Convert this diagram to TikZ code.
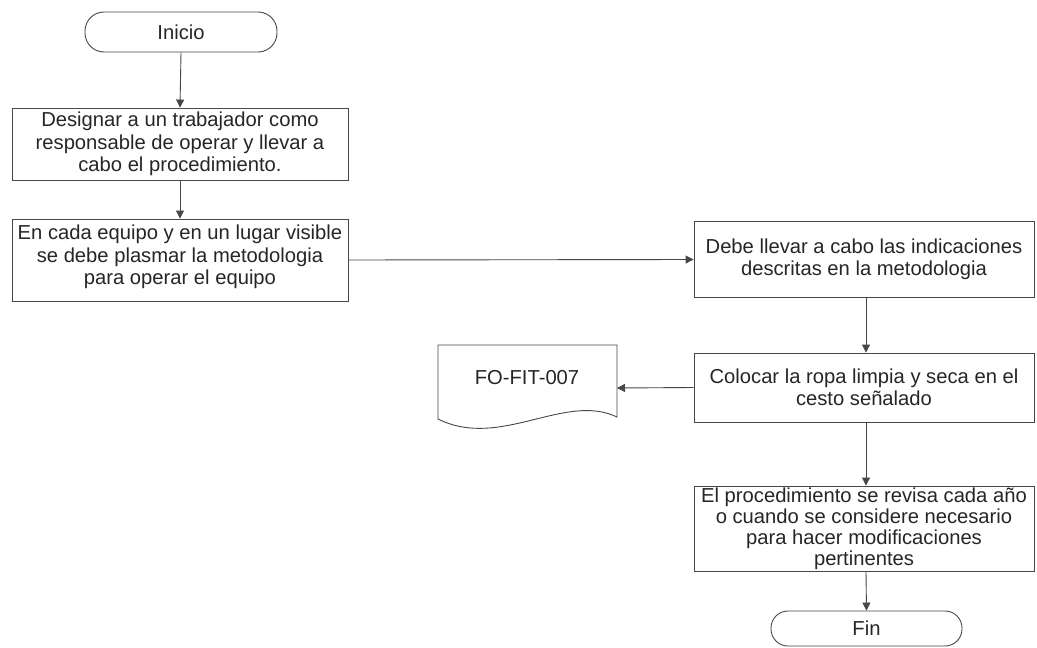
\documentclass[tikz,border=0pt]{standalone}
\usepackage{fontspec}
\setmainfont{Liberation Sans}
\usetikzlibrary{arrows.meta}
\begin{document}
\begin{tikzpicture}[x=1pt,y=-1pt,
  line/.style={draw=black!72,line width=0.9pt},
  conn/.style={line,-{Triangle[width=8pt,length=8pt]}},
  txt/.style={font=\fontsize{20.2}{22.5}\selectfont,align=center,text=black!85},
  stepbox/.style={line,rectangle,inner sep=0pt},
  term/.style={line,rectangle,rounded corners=19pt,inner sep=0pt}
]
\useasboundingbox[fill=white] (0,0) rectangle (1037,648);
% shapes
\node[term,minimum width=192pt,minimum height=40pt] (ini) at (181,32) {};
\node[txt] at (ini.center) {Inicio};
\node[stepbox,minimum width=336pt,minimum height=72pt] (b1) at (180,144) {};
\node[txt] at (b1.center) {Designar a un trabajador como\\responsable de operar y llevar a\\cabo el procedimiento.};
\node[stepbox,minimum width=336pt,minimum height=82pt] (b2) at (180,260) {};
\node[txt] at ([yshift=3pt]b2.center) {En cada equipo y en un lugar visible\\se debe plasmar la metodologia\\para operar el equipo};
\node[stepbox,minimum width=340pt,minimum height=76pt] (b3) at (864,259.5) {};
\node[txt] at (b3.center) {Debe llevar a cabo las indicaciones\\descritas en la metodologia};
\node[stepbox,minimum width=340pt,minimum height=69pt] (b4) at (864,387.5) {};
\node[txt] at (b4.center) {Colocar la ropa limpia y seca en el\\cesto señalado};
\node[stepbox,minimum width=340pt,minimum height=85pt] (b5) at (864,528.5) {};
\node[txt,font=\fontsize{20.2}{21}\selectfont] at (b5.center) {El procedimiento se revisa cada año\\o cuando se considere necesario\\para hacer modificaciones\\pertinentes};
\node[term,minimum width=191pt,minimum height=35pt,rounded corners=17pt] (fin) at (866.5,628.5) {};
\node[txt] at (fin.center) {Fin};
% document shape
\coordinate (dR) at (617,388);
\draw[line] (438,345) -- (617,345) -- (617,417)
  .. controls (565,392) and (500,450) .. (438,419) -- cycle;
\node[txt] (doc) at (527,378) {FO-FIT-007};
% connectors
\draw[conn] (ini.south) -- (b1.north);
\draw[conn] (b1.south) -- (b2.north);
\draw[conn] (b2.east) -- (b3.west);
\draw[conn] ([xshift=2pt]b3.south) -- ([xshift=2pt]b4.north);
\draw[conn] (b4.west) -- (dR);
\draw[conn] ([xshift=2pt]b4.south) -- ([xshift=2pt]b5.north);
\draw[conn] ([xshift=2pt]b5.south) -- (fin.north);
\end{tikzpicture}
\end{document}
